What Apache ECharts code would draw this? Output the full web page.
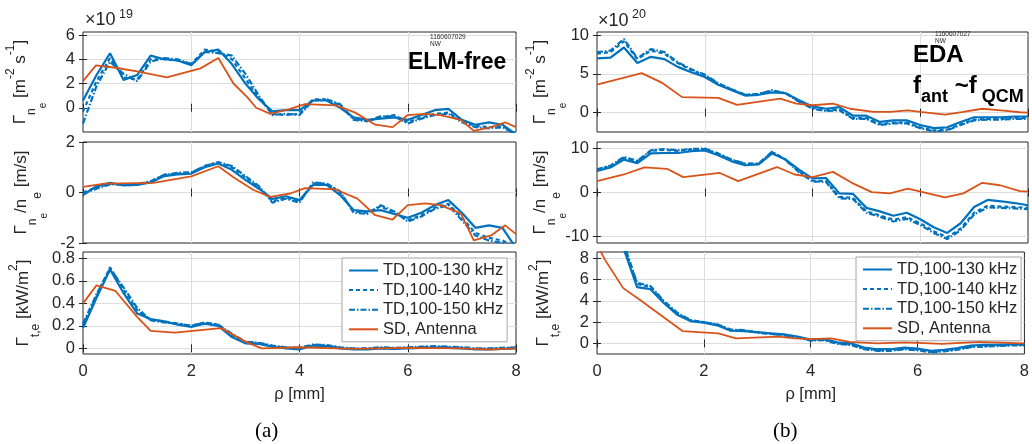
<!DOCTYPE html>
<html>
<head>
<meta charset="utf-8">
<script src="https://cdn.jsdelivr.net/npm/echarts@6/dist/echarts.min.js"></script>
<style>
html, body { margin: 0; padding: 0; background: #fff; }
#chart { width: 1032px; height: 444px; }
</style>
</head>
<body>
<div id="chart"></div>
<script>
// common radial grid, mm
var rho = [0, 0.25, 0.5, 0.75, 1, 1.25, 1.5, 1.75, 2, 2.25, 2.5, 2.75, 3, 3.25, 3.5, 3.75,
    4, 4.25, 4.5, 4.75, 5, 5.25, 5.5, 5.75, 6, 6.25, 6.5, 6.75, 7, 7.25, 7.5, 7.75, 8];

// (a) ELM-free, particle flux (x1e19)
var fluxA130 = [0.6, 2.7, 4.5, 2.3, 2.7, 4.3, 4.0, 3.9, 3.5, 4.6, 4.8, 3.6, 2.0, 0.7, -0.3, -0.2,
    -0.2, 0.6, 0.6, 0.0, -0.8, -1.0, -0.9, -0.8, -1.0, -0.6, -0.2, -0.1, -1.0, -1.4, -1.2, -1.4, -2.2];
var fluxA140 = [-0.3, 2.2, 4.1, 2.5, 2.3, 4.0, 4.0, 3.9, 3.6, 4.8, 4.6, 4.0, 2.4, 0.8, -0.5, -0.6,
    -0.5, 0.7, 0.7, 0.2, -0.9, -1.1, -0.8, -0.6, -1.2, -0.8, -0.5, -0.4, -1.1, -1.5, -1.6, -1.5, -2.2];
var fluxA150 = [-1.3, 1.8, 3.8, 2.8, 2.2, 3.8, 4.1, 4.0, 3.6, 4.6, 4.5, 4.3, 2.8, 1.0, -0.6, -0.5,
    -0.6, 0.6, 0.7, 0.3, -1.0, -1.1, -0.7, -0.7, -1.3, -0.9, -0.6, -0.5, -1.2, -1.6, -1.7, -1.6, -2.2];
var fluxASDrho = [0, 0.24, 0.6, 1.0, 1.55, 2.17, 2.5, 2.78, 3.03, 3.2, 3.46, 3.83, 4.1, 4.67, 5.03,
    5.4, 5.72, 6.0, 6.33, 6.6, 6.98, 7.22, 7.54, 7.8, 8.0];
var fluxASD = [2.2, 3.5, 3.3, 3.0, 2.5, 3.25, 4.1, 2.0, 0.9, 0.0, -0.5, -0.1, 0.3, 0.2, -0.4,
    -1.4, -1.6, -0.6, -0.5, -0.6, -1.0, -1.9, -1.6, -1.2, -1.6];

// (a) velocity, m/s
var velA130 = [-0.1, 0.25, 0.38, 0.28, 0.3, 0.4, 0.65, 0.72, 0.75, 1.0, 1.15, 0.9, 0.5, 0.15, -0.25, -0.15,
    -0.3, 0.3, 0.3, -0.1, -0.7, -0.75, -0.7, -0.85, -1.0, -0.8, -0.5, -0.3, -0.8, -1.4, -1.3, -1.4, -2.2];
var velA140 = [0.0, 0.2, 0.35, 0.3, 0.32, 0.42, 0.7, 0.75, 0.78, 1.05, 1.2, 1.0, 0.6, 0.2, -0.35, -0.2,
    -0.35, 0.35, 0.35, 0.0, -0.75, -0.8, -0.55, -0.8, -1.1, -0.9, -0.6, -0.45, -1.0, -1.6, -1.8, -1.9, -2.2];
var velA150 = [-0.05, 0.15, 0.32, 0.32, 0.33, 0.45, 0.7, 0.78, 0.8, 1.05, 1.2, 1.05, 0.65, 0.25, -0.4, -0.25,
    -0.4, 0.4, 0.35, 0.05, -0.8, -0.85, -0.5, -0.75, -1.15, -0.95, -0.65, -0.5, -1.1, -1.7, -1.9, -2.0, -2.2];
var velASDrho = [0, 0.4, 1.3, 2.0, 2.5, 2.78, 3.15, 3.46, 3.83, 4.1, 4.67, 5.07, 5.4, 5.72, 6.0, 6.33,
    6.6, 6.98, 7.22, 7.54, 7.8, 8.0];
var velASD = [0.22, 0.35, 0.38, 0.64, 1.04, 0.6, 0.1, -0.17, -0.04, 0.17, 0.12, -0.24, -0.9, -1.07, -0.5, -0.43,
    -0.5, -0.83, -1.9, -1.7, -1.3, -1.65];

// (a) heat flux, kW/m2
var heatA130 = [0.18, 0.45, 0.7, 0.49, 0.31, 0.26, 0.24, 0.21, 0.19, 0.22, 0.2, 0.1, 0.045, 0.04, 0.015, 0.0,
    -0.01, 0.025, 0.02, 0.0, -0.01, -0.01, 0.0, -0.005, 0.0, 0.005, 0.01, 0.005, 0.0, -0.01, -0.01, -0.005, 0.0];
var heatA140 = [0.2, 0.47, 0.72, 0.52, 0.34, 0.25, 0.24, 0.22, 0.2, 0.23, 0.21, 0.12, 0.055, 0.045, 0.02, 0.005,
    0.0, 0.03, 0.025, 0.005, -0.005, -0.005, 0.005, 0.0, 0.005, 0.01, 0.015, 0.01, 0.005, -0.005, -0.005, 0.0, 0.005];
var heatA150 = [0.22, 0.48, 0.71, 0.54, 0.36, 0.25, 0.23, 0.22, 0.2, 0.23, 0.21, 0.13, 0.06, 0.05, 0.025, 0.01,
    0.005, 0.035, 0.03, 0.01, 0.0, 0.0, 0.01, 0.005, 0.01, 0.015, 0.02, 0.015, 0.01, 0.0, 0.0, 0.005, 0.01];
var heatASDrho = [0, 0.25, 0.6, 1.0, 1.25, 1.7, 2.55, 3.0, 3.3, 4.0, 5.0, 6.0, 7.0, 7.5, 8.0];
var heatASD = [0.4, 0.56, 0.51, 0.28, 0.155, 0.14, 0.18, 0.06, 0.0, 0.01, -0.005, 0.005, 0.0, -0.01, 0.0];

// (b) EDA, particle flux (x1e20)
var fluxB130 = [7.0, 7.1, 8.4, 6.4, 7.2, 6.9, 5.9, 5.2, 4.6, 3.6, 2.9, 2.2, 2.3, 2.6, 2.5, 1.6,
    0.8, 0.5, 0.7, -0.4, -0.4, -1.2, -1.0, -1.0, -1.6, -2.0, -1.9, -1.2, -0.6, -0.6, -0.6, -0.5, -0.5];
var fluxB140 = [7.6, 7.8, 9.2, 6.9, 8.0, 7.6, 6.4, 5.5, 4.8, 3.7, 3.0, 2.3, 2.4, 2.8, 2.5, 1.5,
    0.6, 0.3, 0.4, -0.7, -0.7, -1.5, -1.3, -1.3, -1.9, -2.3, -2.2, -1.5, -0.9, -0.8, -0.8, -0.7, -0.7];
var fluxB150 = [7.8, 8.0, 9.5, 7.0, 8.2, 7.8, 6.5, 5.6, 4.9, 3.8, 3.0, 2.3, 2.4, 2.9, 2.5, 1.4,
    0.5, 0.2, 0.3, -0.8, -0.8, -1.6, -1.4, -1.4, -2.0, -2.4, -2.3, -1.6, -1.0, -0.9, -0.9, -0.8, -0.8];
var fluxBSDrho = [0, 0.83, 1.22, 1.58, 2.25, 2.6, 3.4, 3.7, 4.0, 4.38, 4.7, 5.13, 5.44, 5.77, 6.0, 6.46,
    6.77, 7.15, 7.5, 7.85, 8.0];
var fluxBSD = [3.6, 5.1, 3.8, 2.0, 1.9, 1.0, 1.8, 1.15, 0.95, 1.15, 0.5, 0.1, 0.1, 0.3, 0.1, -0.26,
    0.05, 0.5, 0.3, 0.05, 0.0];

// (b) velocity, m/s
var velB130 = [4.9, 5.7, 7.5, 6.7, 8.9, 9.0, 9.0, 9.4, 9.6, 8.5, 7.1, 6.2, 6.4, 8.9, 7.5, 5.2,
    3.2, 3.3, -0.2, -0.3, -3.5, -4.3, -5.3, -4.6, -6.1, -7.9, -9.2, -7.0, -3.3, -1.7, -2.0, -2.4, -2.9];
var velB140 = [5.2, 6.0, 7.9, 7.1, 9.5, 9.7, 9.5, 9.8, 9.9, 8.8, 7.4, 6.5, 6.5, 9.2, 7.5, 4.8,
    2.7, 2.6, -1.0, -1.2, -4.3, -5.2, -6.2, -5.6, -7.0, -8.8, -10.2, -8.2, -4.6, -3.0, -3.2, -3.3, -3.5];
var velB150 = [5.3, 6.1, 8.1, 7.2, 9.6, 9.9, 9.6, 9.9, 10.0, 8.9, 7.5, 6.6, 6.6, 9.3, 7.4, 4.6,
    2.5, 2.4, -1.3, -1.5, -4.6, -5.5, -6.6, -6.0, -7.4, -9.2, -10.6, -8.6, -5.0, -3.4, -3.5, -3.6, -3.8];
var velBSDrho = [0, 0.5, 0.88, 1.3, 1.6, 2.28, 2.62, 3.34, 3.67, 4.0, 4.38, 4.73, 5.1, 5.44, 5.77, 6.46,
    6.8, 7.15, 7.48, 7.85, 8.0];
var velBSD = [2.6, 4.1, 5.7, 5.4, 3.5, 4.45, 2.6, 5.8, 4.1, 3.5, 4.7, 2.2, 0.1, -0.2, 0.9, -1.1,
    -0.2, 2.2, 1.65, 0.3, 0.2];

// (b) heat flux, kW/m2
var heatB130 = [17, 12.5, 8.9, 5.3, 5.1, 3.8, 2.7, 2.1, 1.95, 1.7, 1.2, 1.15, 1.05, 0.95, 0.85, 0.65,
    0.35, 0.4, 0.1, 0.0, -0.4, -0.55, -0.55, -0.4, -0.5, -0.7, -0.6, -0.45, -0.2, -0.15, -0.15, -0.1, -0.1];
var heatB140 = [17.5, 13, 9.2, 5.6, 5.3, 3.9, 2.8, 2.15, 2.0, 1.75, 1.25, 1.2, 1.05, 0.9, 0.8, 0.6,
    0.3, 0.35, 0.0, -0.1, -0.5, -0.65, -0.65, -0.5, -0.6, -0.8, -0.7, -0.55, -0.3, -0.25, -0.2, -0.15, -0.15];
var heatB150 = [18, 13.3, 9.4, 5.7, 5.4, 4.0, 2.9, 2.2, 2.0, 1.8, 1.3, 1.25, 1.0, 0.9, 0.75, 0.55,
    0.25, 0.3, -0.05, -0.15, -0.55, -0.7, -0.7, -0.55, -0.65, -0.85, -0.75, -0.6, -0.35, -0.3, -0.25, -0.2, -0.2];
var heatBSDrho = [0, 0.15, 0.49, 0.8, 1.6, 2.27, 2.6, 3.4, 3.7, 4.0, 4.38, 4.73, 5.25, 5.77, 6.46, 7.15, 8.0];
var heatBSD = [9.3, 7.86, 5.2, 4.1, 1.16, 0.94, 0.47, 0.63, 0.47, 0.4, 0.47, 0.15, 0.0, 0.1, -0.05, 0.15, 0.0];

// tick labels
var rhoTicks = [0, 2, 4, 6, 8];
var fluxATicks = [0, 2, 4, 6];
var velATicks = [-2, 0, 2];
var heatATicks = [0, 0.2, 0.4, 0.6, 0.8];
var fluxBTicks = [0, 5, 10];
var velBTicks = [-10, 0, 10];
var heatBTicks = [0, 2, 4, 6, 8];

var seriesNames = ['TD,100-130 kHz', 'TD,100-140 kHz', 'TD,100-150 kHz', 'SD, Antenna'];

var FONT = '"Liberation Sans", Arial, Helvetica, sans-serif';
var TXT = '#262626';
var BLUE = '#0072BD';
var ORANGE = '#D95319';
var GRIDC = '#dedede';

var nameFlux = '{g|Γ}{s1|n}{s2|e}{g| [m}{p|-2}{g| s}{p|-1}{g|]}';
var nameVel = '{g|Γ}{s1|n}{s2|e}{g|/n}{s3|e}{g| [m/s]}';
var nameHeat = '{g|Γ}{s4|t,e}{g| [kW/m}{p|2}{g|]}';

var panels = [
    {left: 83, top: 32, height: 100, min: -2, max: 6.25, ticks: fluxATicks, td: [fluxA130, fluxA140, fluxA150], sdRho: fluxASDrho, sd: fluxASD, name: nameFlux, gap: 35, bottom: false},
    {left: 83, top: 142, height: 101, min: -2, max: 2, ticks: velATicks, td: [velA130, velA140, velA150], sdRho: velASDrho, sd: velASD, name: nameVel, gap: 34, bottom: false},
    {left: 83, top: 252, height: 102, min: -0.05, max: 0.856, ticks: heatATicks, td: [heatA130, heatA140, heatA150], sdRho: heatASDrho, sd: heatASD, name: nameHeat, gap: 41, bottom: true},
    {left: 597, top: 32, height: 100, min: -2.5, max: 10.4, ticks: fluxBTicks, td: [fluxB130, fluxB140, fluxB150], sdRho: fluxBSDrho, sd: fluxBSD, name: nameFlux, gap: 29, bottom: false},
    {left: 597, top: 142, height: 101, min: -11.5, max: 11.5, ticks: velBTicks, td: [velB130, velB140, velB150], sdRho: velBSDrho, sd: velBSD, name: nameVel, gap: 29, bottom: false},
    {left: 597, top: 252, height: 102, min: -1, max: 8.6, ticks: heatBTicks, td: [heatB130, heatB140, heatB150], sdRho: heatBSDrho, sd: heatBSD, name: nameHeat, gap: 35, bottom: true}
];

function tok(size, pad) {
    return {fontSize: size, fontFamily: FONT, color: TXT, verticalAlign: 'top', padding: [pad, 0, 0, 0]};
}
var nameRich = {
    g: tok(17, 8),
    s1: tok(12, 22),
    s2: tok(10, 34),
    s3: tok(12, 27),
    s4: tok(12, 23),
    p: tok(12, 1)
};

function fmt(v) {
    return String(parseFloat(v.toFixed(2)));
}
function pairs(xs, ys) {
    return xs.map(function (x, i) { return [x, ys[i]]; });
}

initChart();

function initChart() {
    var chart = echarts.init(document.getElementById('chart'), null, {renderer: 'canvas'});
    var grid = [], xAxis = [], yAxis = [], series = [];

    panels.forEach(function (p, k) {
        grid.push({left: p.left, top: p.top, width: p.left < 300 ? 433 : 431, height: p.height,
            show: true, borderColor: TXT, borderWidth: 1, backgroundColor: '#fff'});

        // bottom x axis
        xAxis.push({
            gridIndex: k, type: 'value', position: 'bottom', min: 0, max: 8, interval: 2,
            axisLine: {show: false},
            axisTick: {show: true, inside: true, length: 4, lineStyle: {color: TXT}},
            axisLabel: {show: p.bottom, color: TXT, fontSize: 16.5, fontFamily: FONT, margin: 9,
                formatter: function (v) { return fmt(v); }},
            splitLine: {show: true, showMinLine: false, showMaxLine: false, lineStyle: {color: GRIDC, width: 1}},
            name: p.bottom ? 'ρ [mm]' : '', nameLocation: 'middle', nameGap: 32, nameMoveOverlap: false,
            nameTextStyle: {color: TXT, fontSize: 16.5, fontFamily: FONT}
        });
        // top x axis, ticks only
        xAxis.push({
            gridIndex: k, type: 'value', position: 'top', min: 0, max: 8, interval: 2,
            axisLine: {show: false},
            axisTick: {show: true, inside: true, length: 4, lineStyle: {color: TXT}},
            axisLabel: {show: false}, splitLine: {show: false}
        });

        var atMin = Math.abs(p.ticks[0] - p.min) < 1e-9;
        var atMax = Math.abs(p.ticks[p.ticks.length - 1] - p.max) < 1e-9;
        yAxis.push({
            gridIndex: k, type: 'value', position: 'left', min: p.min, max: p.max,
            axisLine: {show: false},
            axisTick: {show: true, inside: true, length: 4, lineStyle: {color: TXT}, customValues: p.ticks},
            axisLabel: {color: TXT, fontSize: 16.5, fontFamily: FONT, margin: 8, customValues: p.ticks,
                showMinLabel: true, showMaxLabel: true,
                formatter: function (v) { return fmt(v); }},
            splitLine: {show: true, showMinLine: !atMin, showMaxLine: !atMax, lineStyle: {color: GRIDC, width: 1}},
            name: p.name, nameLocation: 'middle', nameRotate: 90, nameGap: p.gap, nameMoveOverlap: false,
            nameTextStyle: {rich: nameRich}
        });
        yAxis.push({
            gridIndex: k, type: 'value', position: 'right', min: p.min, max: p.max,
            axisLine: {show: false},
            axisTick: {show: true, inside: true, length: 4, lineStyle: {color: TXT}, customValues: p.ticks},
            axisLabel: {show: false, customValues: p.ticks}, splitLine: {show: false}
        });

        var styles = [
            {color: BLUE, width: 2.2, type: 'solid'},
            {color: BLUE, width: 2.2, type: [4, 3]},
            {color: BLUE, width: 2.2, type: [6, 2, 1.5, 2]}
        ];
        p.td.forEach(function (arr, j) {
            series.push({
                name: seriesNames[j], type: 'line', xAxisIndex: 2 * k, yAxisIndex: 2 * k,
                data: pairs(rho, arr), symbol: 'none', clip: true, silent: true,
                lineStyle: styles[j], itemStyle: {color: BLUE}
            });
        });
        series.push({
            name: seriesNames[3], type: 'line', xAxisIndex: 2 * k, yAxisIndex: 2 * k,
            data: pairs(p.sdRho, p.sd), symbol: 'none', clip: true, silent: true,
            lineStyle: {color: ORANGE, width: 1.8, type: 'solid'}, itemStyle: {color: ORANGE}
        });
    });

    var legendBase = {
        orient: 'vertical', itemWidth: 29, itemHeight: 14, itemGap: 2.6, padding: [4, 4, 4, 6],
        borderColor: '#a6a6a6', borderWidth: 1, backgroundColor: '#fff', borderRadius: 0,
        selectedMode: false, data: seriesNames,
        itemStyle: {opacity: 0, borderWidth: 0},
        textStyle: {color: TXT, fontSize: 16.5, fontFamily: FONT, lineHeight: 14}
    };

    var option = {
        animation: false,
        backgroundColor: '#fff',
        grid: grid,
        xAxis: xAxis,
        yAxis: yAxis,
        legend: [
            Object.assign({left: 342, top: 258}, legendBase),
            Object.assign({left: 856, top: 257}, legendBase)
        ],
        graphic: [
            {type: 'text', z: 100, left: 85, top: 8, style: {text: '{a|×10}{b| 19}', rich: {
                a: {fontSize: 18, fontFamily: FONT, fill: TXT, verticalAlign: 'top', padding: [6, 0, 0, 0]},
                b: {fontSize: 12.5, fontFamily: FONT, fill: TXT, verticalAlign: 'top', padding: [3, 0, 0, 0]}}}},
            {type: 'text', z: 100, left: 598, top: 8, style: {text: '{a|×10}{b| 20}', rich: {
                a: {fontSize: 18, fontFamily: FONT, fill: TXT, verticalAlign: 'top', padding: [6, 0, 0, 0]},
                b: {fontSize: 12.5, fontFamily: FONT, fill: TXT, verticalAlign: 'top', padding: [2, 0, 0, 0]}}}},
            {type: 'text', z: 100, left: 430, top: 34, style: {text: '1160607029\nNW', font: '6.5px ' + FONT, fill: TXT, lineHeight: 7}},
            {type: 'text', z: 100, left: 935, top: 31, style: {text: '1160607027\nNW', font: '6.5px ' + FONT, fill: TXT, lineHeight: 7}},
            {type: 'text', z: 100, left: 408, top: 51, style: {text: 'ELM-free', font: 'bold 23px ' + FONT, fill: '#000'}},
            {type: 'text', z: 100, left: 913, top: 43, style: {text: 'EDA', font: 'bold 24px ' + FONT, fill: '#000'}},
            {type: 'text', z: 100, left: 913, top: 74, style: {text: '{b|f}{s|ant}{b| ~f}{s| QCM}', rich: {
                b: {fontSize: 24, fontWeight: 'bold', fontFamily: FONT, fill: '#000', verticalAlign: 'top', padding: [0, 0, 0, 0]},
                s: {fontSize: 18, fontWeight: 'bold', fontFamily: FONT, fill: '#000', verticalAlign: 'top', padding: [14, 0, 0, 0]}}}},
            {type: 'text', z: 100, left: 255, top: 421, style: {text: '(a)', font: '21px "Liberation Serif", serif', fill: '#000'}},
            {type: 'text', z: 100, left: 773, top: 421, style: {text: '(b)', font: '21px "Liberation Serif", serif', fill: '#000'}}
        ],
        series: series
    };

    chart.setOption(option, true);
    window.onresize = chart.resize;
}
</script>
</body>
</html>
